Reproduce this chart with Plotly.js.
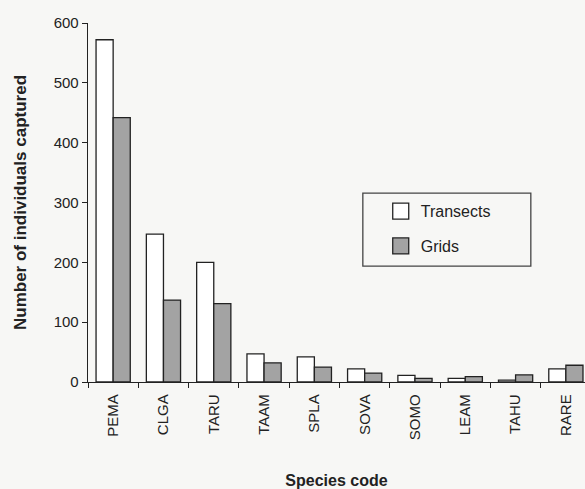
<!DOCTYPE html>
<html>
<head>
<meta charset="utf-8">
<script src="https://cdn.plot.ly/plotly-3.0.1.min.js"></script>
<style>html,body{margin:0;padding:0;background:#f7f7f5;}</style>
</head>
<body>
<div id="chart" style="width:585px;height:489px;"></div>
<script>
const species = ["PEMA","CLGA","TARU","TAAM","SPLA","SOVA","SOMO","LEAM","TAHU","RARE"];
const transects = [572, 247, 200, 47, 42, 22, 11, 6, 3, 22];
const grids = [442, 137, 131, 32, 25, 15, 6, 9, 12, 28];
const yTicks = [0, 100, 200, 300, 400, 500, 600];
const seriesNames = ["Transects", "Grids"];
const fills = ["#ffffff", "#a3a3a3"];

const traces = [
  {type:"bar", name:seriesNames[0], x:species, y:transects, showlegend:false,
   marker:{color:fills[0], line:{color:"#222", width:1.3}}},
  {type:"bar", name:seriesNames[1], x:species, y:grids, showlegend:false,
   marker:{color:fills[1], line:{color:"#222", width:1.3}}},
  // legend-only entries (larger square swatches)
  {type:"scatter", mode:"markers", name:seriesNames[0], x:[null], y:[null], legendgroup:"t",
   marker:{symbol:"square", size:22, color:fills[0], line:{color:"#222", width:1.3}}},
  {type:"scatter", mode:"markers", name:seriesNames[1], x:[null], y:[null], legendgroup:"g",
   marker:{symbol:"square", size:22, color:fills[1], line:{color:"#222", width:1.3}}}
];

const layout = {
  width:585, height:489,
  paper_bgcolor:"#f7f7f5", plot_bgcolor:"#f7f7f5",
  margin:{l:88, r:0, t:23, b:107},
  barmode:"group", bargap:0.32, bargroupgap:0,
  font:{family:"Liberation Sans, Arial, sans-serif", color:"#222", size:15},
  showlegend:true,
  legend:{x:0.589, y:0.523, xanchor:"left", yanchor:"top",
    bgcolor:"rgba(0,0,0,0)", borderwidth:0,
    font:{size:16, color:"#222"}, tracegroupgap:11, traceorder:"grouped"},
  shapes:[{type:"rect", xref:"paper", yref:"paper", x0:0.553, x1:0.891, y0:0.323, y1:0.526,
    line:{color:"#444", width:1.3}, fillcolor:"rgba(0,0,0,0)"}],
  xaxis:{type:"category", range:[-0.5, 9.38], showline:true, linecolor:"#222", linewidth:1.3,
    ticks:"outside", tickson:"boundaries", ticklen:5, tickcolor:"#222",
    tickangle:-90, tickfont:{size:15}, ticklabelstandoff:5, showgrid:false, zeroline:false,
    title:{text:"<b>Species code</b>", font:{size:16}, standoff:36}},
  yaxis:{range:[0, 600], showline:true, linecolor:"#222", linewidth:1.3,
    ticks:"outside", ticklen:5, tickcolor:"#222", tickvals:yTicks,
    tickfont:{size:15}, showgrid:false, zeroline:false,
    title:{text:"<b>Number of individuals captured</b>", font:{size:17}, standoff:22}}
};

Plotly.newPlot("chart", traces, layout, {displayModeBar:false, staticPlot:true});
</script>
</body>
</html>
